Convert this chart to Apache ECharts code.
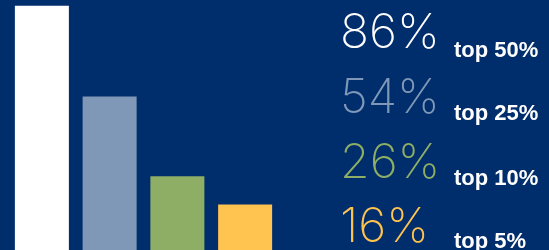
<!DOCTYPE html>
<html>
<head>
<meta charset="utf-8">
<script src="https://cdn.jsdelivr.net/npm/echarts@6/dist/echarts.min.js"></script>
<style>
html, body { margin: 0; padding: 0; background: #002d6b; }
#chart { width: 549px; height: 250px; }
</style>
</head>
<body>
<div id="chart"></div>
<script>
var categories = ['top 50%', 'top 25%', 'top 10%', 'top 5%'];
var values = [86, 54, 26, 16];
var colors = ['#ffffff', '#7f98b8', '#8fae65', '#ffc34f'];

var bg = '#002d6b';

// big numbers + labels on the right
var numTops = [10, 75, 140, 204];
var labelTops = [40, 103, 168, 231];
var texts = [];
for (var i = 0; i < values.length; i++) {
	texts.push({
		type: 'text',
		left: 340,
		top: numTops[i],
		style: {
			text: values[i] + '%',
			font: '200 48px Inter',
			fill: colors[i]
		}
	});
	texts.push({
		type: 'text',
		left: 454,
		top: labelTops[i],
		style: {
			text: categories[i],
			font: 'bold 22px "Liberation Sans"',
			fill: '#ffffff'
		}
	});
}

var option = {
	backgroundColor: bg,
	animation: false,
	grid: {
		left: 8,
		width: 271,
		top: 0,
		bottom: 0
	},
	xAxis: {
		type: 'category',
		data: categories,
		show: false
	},
	yAxis: {
		type: 'value',
		min: 0,
		max: 88,
		show: false
	},
	series: [{
		type: 'bar',
		barWidth: 54,
		data: values.map(function (v, i) {
			return { value: v, itemStyle: { color: colors[i] } };
		})
	}],
	graphic: texts
};

var myChart = echarts.init(document.getElementById('chart'));
myChart.setOption(option);
</script>
</body>
</html>
